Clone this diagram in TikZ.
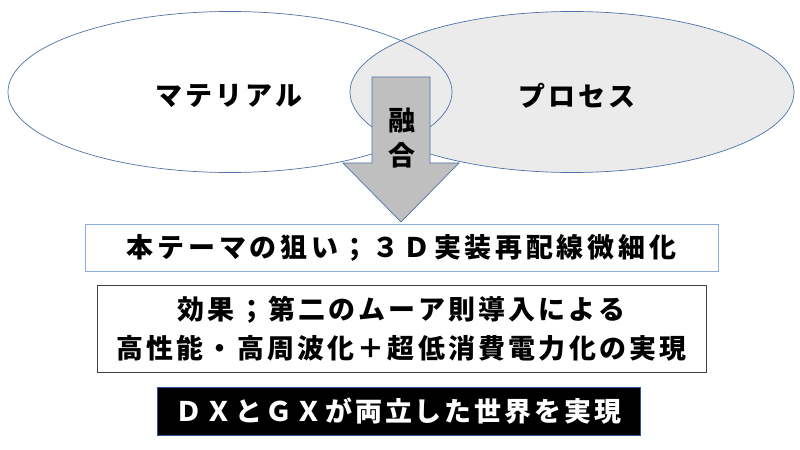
\documentclass[tikz,border=0pt]{standalone}
\usepackage{fontspec}
\setmainfont{Noto Sans CJK JP}[LetterSpace=11]
\usepackage{xcolor}
\definecolor{vennline}{RGB}{79,113,168}
\definecolor{venngray}{RGB}{235,235,235}
\definecolor{fusegray}{RGB}{191,191,191}
\definecolor{aimline}{RGB}{143,170,220}
\definecolor{effectline}{RGB}{64,64,64}
\definecolor{goalline}{RGB}{47,85,151}
\usetikzlibrary{shapes.geometric}
\newcommand{\jpfont}{\fontsize{23}{30.6}\selectfont\bfseries}
\tikzset{
  venn ellipse/.style={draw=vennline, ellipse, line width=0.6pt, minimum width=13.32cm, minimum height=4.83cm, inner sep=0pt, font=\jpfont},
  fuse arrow/.style={draw=vennline, fill=fusegray, line width=0.6pt},
  aim box/.style={draw=aimline, line width=0.8pt, minimum width=18.99cm, minimum height=1.41cm, font=\jpfont\addfontfeature{LetterSpace=14}},
  effect box/.style={draw=effectline, line width=0.6pt, minimum width=18.27cm, minimum height=2.61cm, align=center, font=\fontsize{23}{33}\selectfont\bfseries\addfontfeature{LetterSpace=12}},
  goal box/.style={draw=goalline, fill=black, text=white, line width=0.8pt, minimum width=14.49cm, minimum height=1.44cm, font=\jpfont},
}

\begin{document}
\begin{tikzpicture}[x=0.03cm, y=-0.03cm]
  \useasboundingbox (0,0) rectangle (800,450);
  % venn of the two fields
  \node[venn ellipse, fill=venngray] (proc) at (572,92) {};
  \node[venn ellipse] (mat) at (230,92) {};
  \node[font=\jpfont] (matlabel) at (229,96) {マテリアル};
  \node[font=\jpfont] (proclabel) at (577,96) {プロセス};
  % fusion arrow
  \draw[fuse arrow] (372,77) -- (430,77) -- (430,163) -- (459,163) -- (401,222) -- (343,163) -- (372,163) -- cycle;
  \node[font=\jpfont, align=center, inner sep=0pt] (fuse) at (402,138) {融\\合};
  % result boxes
  \node[aim box] (aim) at (401.5,247.5) {本テーマの狙い；３Ｄ実装再配線微細化};
  \node[effect box] (effect) at (401.5,328.5) {効果；第二のムーア則導入による\\高性能・高周波化＋超低消費電力化の実現};
  \node[goal box] (goal) at (398.5,411) {ＤＸとＧＸが両立した世界を実現};
\end{tikzpicture}
\end{document}
